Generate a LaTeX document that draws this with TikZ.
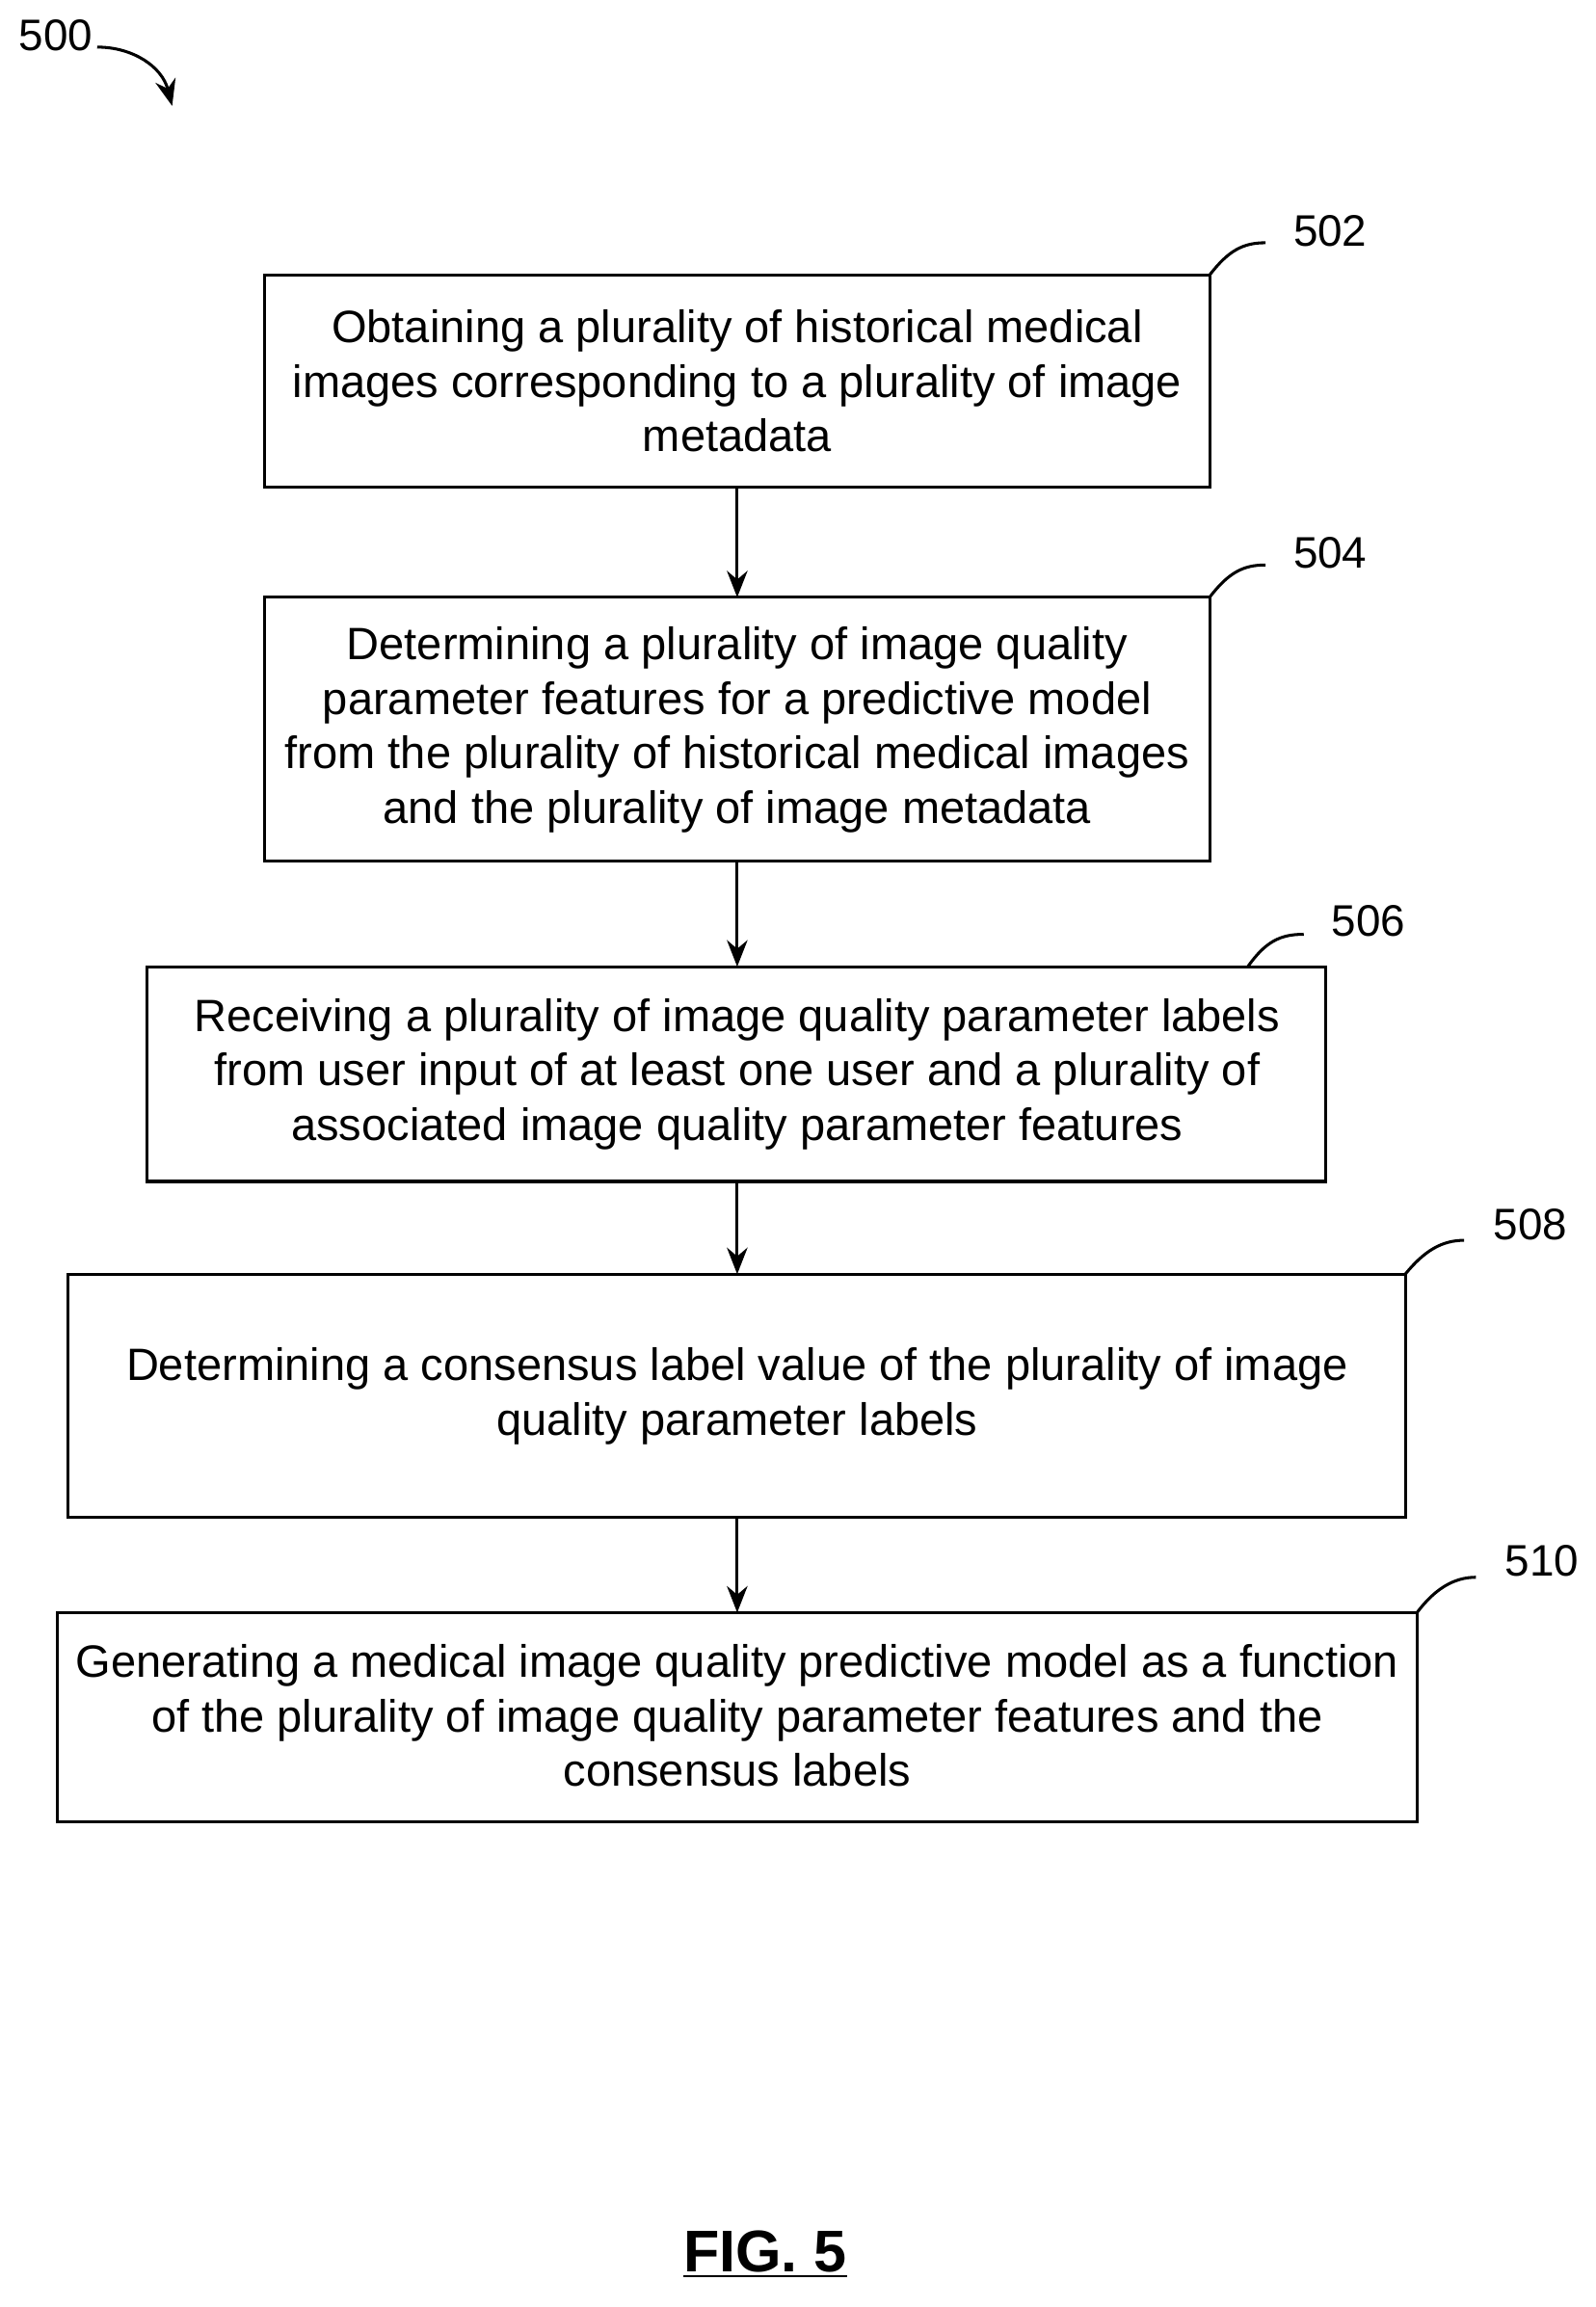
\documentclass[tikz,border=0pt]{standalone}
\usepackage{fontspec}
\setmainfont{Liberation Sans}
\usetikzlibrary{arrows.meta}
\begin{document}
\begin{tikzpicture}[x=0.5pt,y=-0.5pt,
  box/.style={draw,line width=1pt,inner sep=0pt},
  txt/.style={align=center,font=\fontsize{15.4}{18.5}\selectfont},
  arr/.style={line width=1pt,-{Stealth[length=9pt,width=7pt]}},
  lbl/.style={font=\fontsize{15}{17}\selectfont},
  lead/.style={line width=1pt}]
\useasboundingbox (0,0) rectangle (1084,1568);
\node[lbl] (n500) at (38,24) {500};
\coordinate (c500) at (117,72);
\draw[arr] (66,32) .. controls (90,32) and (110,45) .. (c500);

\draw[box] (180,187) rectangle (822,331); \coordinate (b502t) at (501,331);
\node[txt] (t502) at (501,259) {Obtaining a plurality of historical medical\\images corresponding to a plurality of image\\metadata};
\draw[box] (180,406) rectangle (822,585); \coordinate (b504t) at (501,406); \coordinate (b504b) at (501,585);
\node[txt] (t504) at (501,496) {Determining a plurality of image quality\\parameter features for a predictive model\\from the plurality of historical medical images\\and the plurality of image metadata};
\draw[box] (100,657) rectangle (901,803); \coordinate (b506t) at (501,657); \coordinate (b506b) at (501,803);
\node[txt] (t506) at (501,730) {Receiving a plurality of image quality parameter labels\\from user input of at least one user and a plurality of\\associated image quality parameter features};
\draw[box] (46,866) rectangle (955,1031); \coordinate (b508t) at (501,866); \coordinate (b508b) at (501,1031);
\node[txt] (t508) at (501,949) {Determining a consensus label value of the plurality of image\\quality parameter labels};
\draw[box] (39,1096) rectangle (963,1238); \coordinate (b510t) at (501,1096);
\node[txt] (t510) at (501,1166) {Generating a medical image quality predictive model as a function\\of the plurality of image quality parameter features and the\\consensus labels};

\draw[arr] (b502t) -- (b504t);
\draw[arr] (b504b) -- (b506t);
\draw[arr] (b506b) -- (b508t);
\draw[arr] (b508b) -- (b510t);

\node[lbl] (n502) at (904,157) {502};
\draw[lead] (822,187) .. controls (835,170) and (845,165) .. (860,165);
\node[lbl] (n504) at (904,376) {504};
\draw[lead] (822,406) .. controls (835,389) and (845,384) .. (860,384);
\node[lbl] (n506) at (930,626) {506};
\draw[lead] (848,657) .. controls (860,640) and (870,635) .. (886,635);
\node[lbl] (n508) at (1040,832) {508};
\draw[lead] (955,866) .. controls (968,850) and (980,843) .. (995,843);
\node[lbl] (n510) at (1048,1061) {510};
\draw[lead] (963,1096) .. controls (975,1080) and (988,1072) .. (1003,1072);

\node[font=\fontsize{20}{24}\selectfont\bfseries] (fig) at (520,1532) {\underline{FIG. 5}};
\end{tikzpicture}
\end{document}
